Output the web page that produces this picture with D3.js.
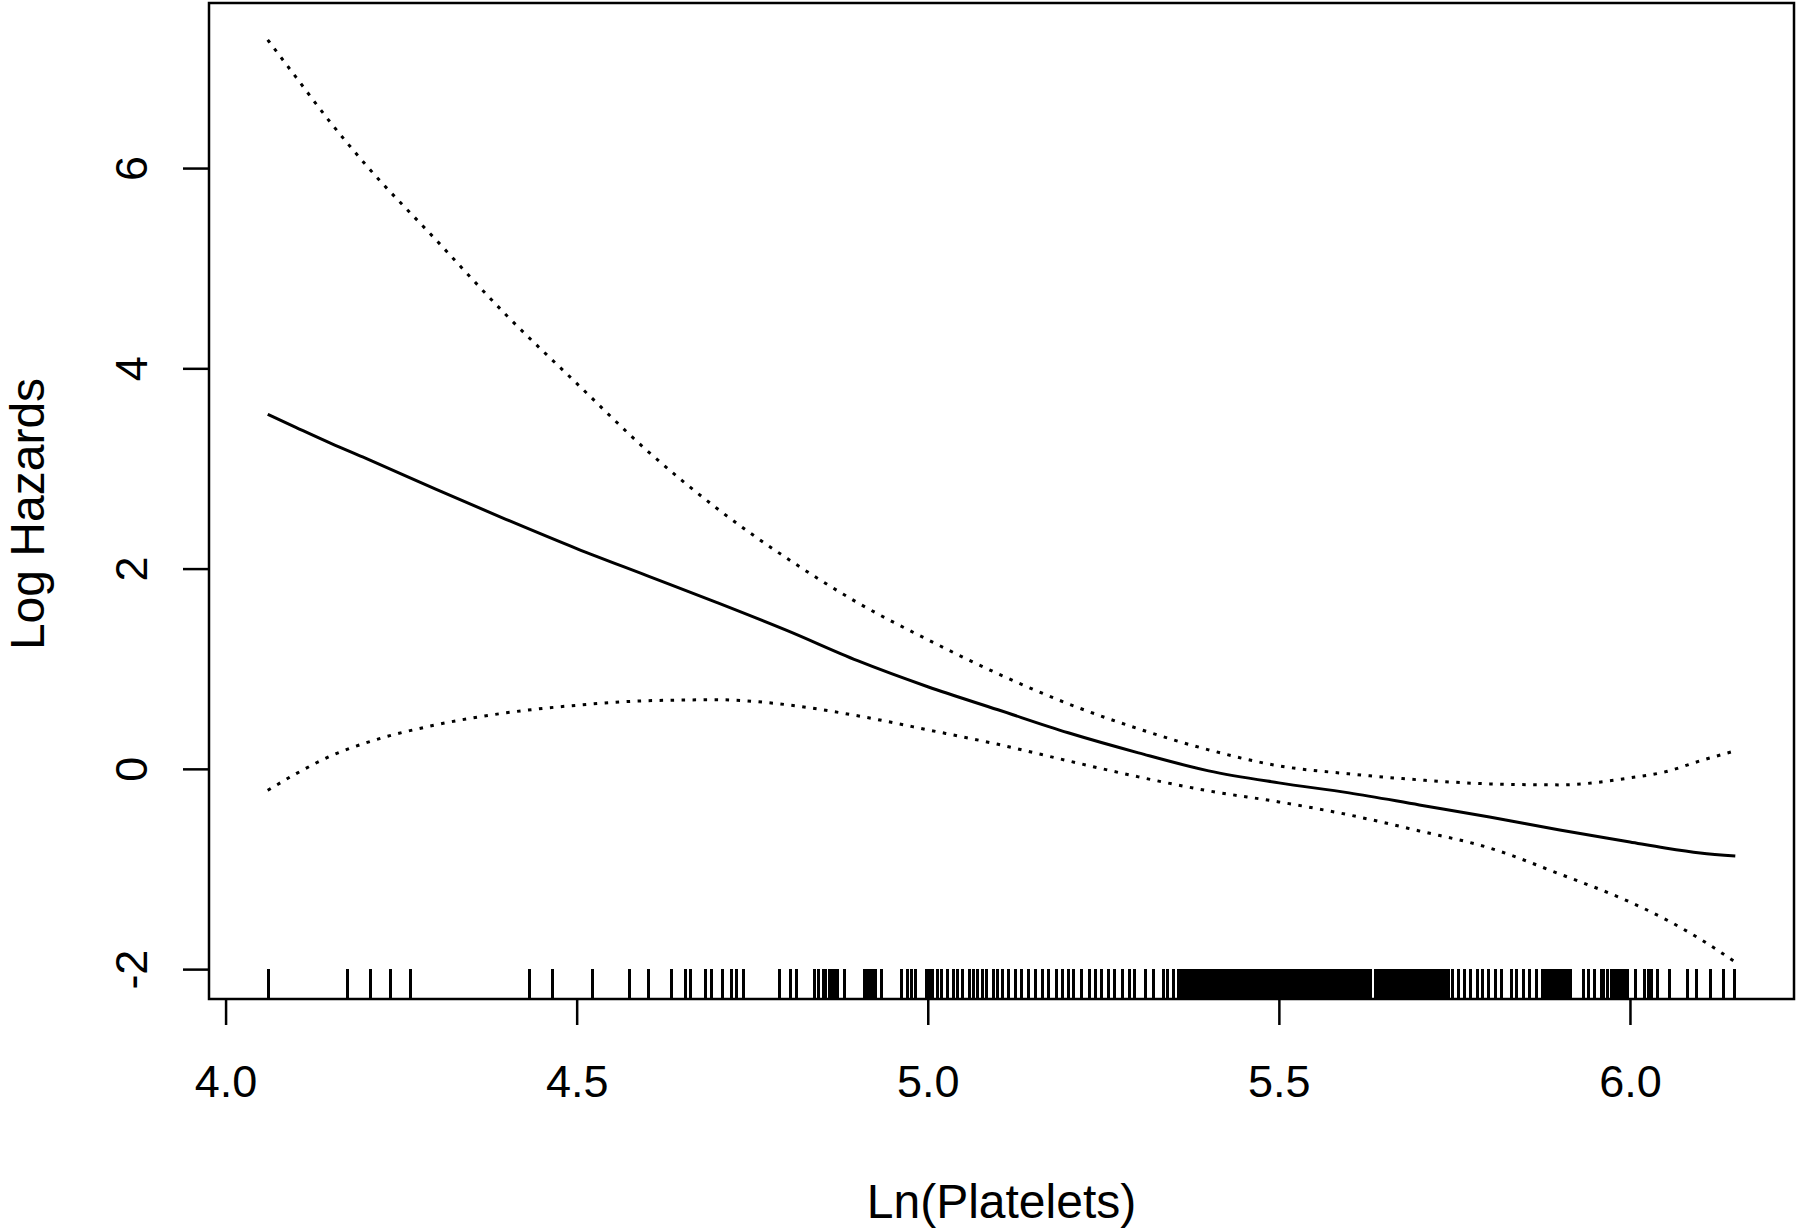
<!DOCTYPE html>
<meta charset="utf-8">

<style>
body { margin: 0; background: #fff; }
svg text {
  font-family: "Liberation Sans", Arial, sans-serif;
  fill: #000;
}
.frame { fill: none; stroke: #000; stroke-width: 2.5px; }
.axis line { stroke: #000; stroke-width: 2.5px; }
.axis text { font-size: 45px; }
.fit { fill: none; stroke: #000; stroke-width: 3px; }
.ci { fill: none; stroke: #000; stroke-width: 3px; stroke-dasharray: 3.5, 7.5; }
.rug line { stroke: #000; stroke-width: 3px; shape-rendering: crispEdges; }
.title { font-size: 48px; }
</style>

<svg width="1800" height="1231"></svg>

<script src="https://cdn.jsdelivr.net/npm/d3@7"></script>
<script>

// x grid for the fitted curve and its confidence band
var lnPlatelets = [4.06, 4.1, 4.15, 4.2, 4.3, 4.4, 4.5, 4.6, 4.7, 4.8, 4.9, 5.0, 5.1,
                   5.2, 5.3, 5.4, 5.5, 5.6, 5.7, 5.8, 5.9, 6.0, 6.05, 6.1, 6.15];

// Log hazard estimate
var logHazard = [3.54, 3.41, 3.25, 3.10, 2.79, 2.49, 2.20, 1.93, 1.66, 1.38, 1.08, 0.82, 0.59,
                 0.36, 0.16, -0.02, -0.14, -0.24, -0.36, -0.48, -0.61, -0.73, -0.79, -0.84, -0.87];

// upper / lower confidence bounds
var upperCI = [7.28, 6.91, 6.45, 6.03, 5.28, 4.53, 3.85, 3.18, 2.60, 2.10, 1.66, 1.29, 0.95,
               0.65, 0.40, 0.19, 0.03, -0.05, -0.11, -0.15, -0.16, -0.09, -0.03, 0.08, 0.18];
var lowerCI = [-0.215, -0.05, 0.13, 0.26, 0.44, 0.56, 0.635, 0.68, 0.69, 0.64, 0.53, 0.39, 0.245,
               0.08, -0.08, -0.22, -0.33, -0.46, -0.62, -0.79, -1.05, -1.33, -1.50, -1.70, -1.93];

// observed values (rug)
var rugValues = [4.061, 4.174, 4.207, 4.235, 4.263, 4.433, 4.465, 4.522, 4.575, 4.603, 4.635,
  4.655, 4.662, 4.684, 4.692, 4.708, 4.721, 4.728, 4.737, 4.789, 4.805, 4.813, 4.838, 4.844,
  4.851, 4.855, 4.860, 4.865, 4.868, 4.871, 4.882, 4.910, 4.913, 4.917, 4.921, 4.925, 4.934,
  4.962, 4.971, 4.977, 4.983, 4.998, 5.003, 5.007, 5.014, 5.020, 5.028, 5.037, 5.043, 5.050,
  5.059, 5.065, 5.071, 5.078, 5.084, 5.093, 5.100, 5.107, 5.115, 5.125, 5.134, 5.144, 5.154,
  5.163, 5.172, 5.183, 5.192, 5.201, 5.208, 5.219, 5.230, 5.239, 5.248, 5.258, 5.266, 5.277,
  5.287, 5.295, 5.310, 5.321, 5.335, 5.342, 5.350, 5.357,
  5.362, 5.366, 5.370, 5.374, 5.378, 5.382, 5.386, 5.390, 5.394, 5.398, 5.402, 5.406, 5.410,
  5.414, 5.418, 5.422, 5.426, 5.430, 5.434, 5.438, 5.442, 5.446, 5.450, 5.454, 5.458, 5.462,
  5.466, 5.470, 5.474, 5.478, 5.482, 5.486, 5.490, 5.494, 5.498, 5.502, 5.506, 5.510, 5.514,
  5.518, 5.522, 5.526, 5.530, 5.534, 5.538, 5.542, 5.546, 5.550, 5.554, 5.558, 5.562, 5.566,
  5.570, 5.574, 5.578, 5.582, 5.586, 5.590, 5.594, 5.598, 5.602, 5.606, 5.610, 5.614, 5.618,
  5.622, 5.626, 5.630,
  5.638, 5.642, 5.646, 5.650, 5.654, 5.658, 5.662, 5.666, 5.670, 5.674, 5.678, 5.682, 5.686,
  5.690, 5.694, 5.698, 5.702, 5.706, 5.710, 5.714, 5.718, 5.722, 5.726, 5.730, 5.734, 5.738,
  5.742, 5.747, 5.756, 5.765, 5.773, 5.783, 5.790, 5.799, 5.809, 5.817, 5.832, 5.839, 5.848,
  5.857, 5.867, 5.875, 5.879, 5.883, 5.887, 5.891, 5.895, 5.899, 5.903, 5.907, 5.911, 5.915,
  5.934, 5.941, 5.950, 5.959, 5.963, 5.968, 5.973, 5.977, 5.981, 5.985, 5.989, 5.993, 5.997,
  6.008, 6.021, 6.026, 6.031, 6.039, 6.057, 6.082, 6.095, 6.115, 6.133, 6.149];

var xTicks = [4.0, 4.5, 5.0, 5.5, 6.0];
var yTicks = [-2, 0, 2, 4, 6];

var svg = d3.select("svg"),
    margin = {top: 3, right: 6, bottom: 232, left: 209},
    width = +svg.attr("width") - margin.left - margin.right,
    height = +svg.attr("height") - margin.top - margin.bottom;

// R-style 4% padding of the data range
function padded(ext) {
  var r = ext[1] - ext[0];
  return [ext[0] - 0.04 * r, ext[1] + 0.04 * r];
}

var x = d3.scaleLinear()
    .domain(padded(d3.extent(rugValues.concat(lnPlatelets))))
    .range([0, width]);

var y = d3.scaleLinear()
    .domain(padded(d3.extent(upperCI.concat(lowerCI))))
    .range([height, 0]);

var g = svg.append("g")
    .attr("transform", "translate(" + margin.left + "," + margin.top + ")");

// Lines
function curve(vals) {
  return d3.line()
    .x(function(d, i) { return x(lnPlatelets[i]); })
    .y(function(d) { return y(d); })
    .curve(d3.curveMonotoneX)(vals);
}

g.append("path").attr("class", "ci").attr("d", curve(upperCI));
g.append("path").attr("class", "ci").attr("d", curve(lowerCI));
g.append("path").attr("class", "fit").attr("d", curve(logHazard));

// Rug along the bottom, 3% of plot height
g.append("g")
    .attr("class", "rug")
    .selectAll("line")
    .data(rugValues)
    .enter().append("line")
      .attr("x1", function(d) { return x(d); })
      .attr("x2", function(d) { return x(d); })
      .attr("y1", height)
      .attr("y2", height - 0.03 * height);

// Axes
var xAxis = g.append("g")
    .attr("class", "axis")
    .attr("transform", "translate(0," + height + ")")
    .call(d3.axisBottom(x).tickValues(xTicks).tickFormat(d3.format(".1f"))
          .tickSize(26).tickSizeOuter(0));
xAxis.select(".domain").remove();
xAxis.selectAll("text").attr("y", 98).attr("dy", 0);

// plain hyphen for negatives, like R
var yAxis = g.append("g")
    .attr("class", "axis")
    .call(d3.axisLeft(y).tickValues(yTicks).tickFormat(function(d) { return String(d); })
          .tickSize(26).tickSizeOuter(0));
yAxis.select(".domain").remove();
yAxis.selectAll("text")
    .attr("x", 0).attr("dy", 0)
    .attr("text-anchor", "middle")
    .attr("transform", "translate(-62,0) rotate(-90)");

// Box around plot
g.append("rect")
    .attr("class", "frame")
    .attr("width", width)
    .attr("height", height);

// Titles
svg.append("text")
    .attr("class", "title")
    .attr("text-anchor", "middle")
    .attr("x", margin.left + width / 2)
    .attr("y", 1218)
    .text("Ln(Platelets)");

svg.append("text")
    .attr("class", "title")
    .attr("text-anchor", "middle")
    .attr("transform", "translate(44,514) rotate(-90)")
    .text("Log Hazards");

</script>
